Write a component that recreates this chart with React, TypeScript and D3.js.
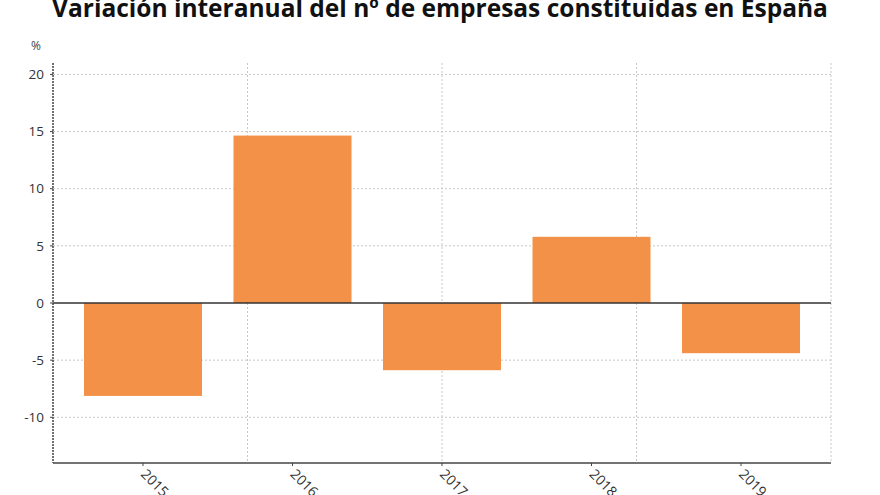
import React from "react";
import * as d3 from "d3";

const categories = ["2015", "2016", "2017", "2018", "2019"];
const values = [-8.13, 14.65, -5.88, 5.79, -4.39];
const yTicks = [-10, -5, 0, 5, 10, 15, 20];

const W = 880, H = 495;
const left = 53, right = 831, top = 63, bottom = 463;

export default function App() {
  const x = d3.scalePoint<string>().domain(categories).range([left, right]).padding(0.602);
  const y = d3.scaleLinear().domain([-14, 21]).range([bottom, top]);
  const barW = 118;
  const vGrid = d3.range(1, 5).map((k) => left + (k * (right - left)) / 4);
  return (
    <svg width={W} height={H} style={{ position: "absolute", left: 0, top: 0, fontFamily: "'Open Sans', sans-serif" }}>
      <rect width={W} height={H} fill="#fff" />
      <text x={440} y={17} textAnchor="middle" fontSize={24.5} fontWeight={700} fill="#111">
        Variación interanual del nº de empresas constituidas en España
      </text>
      <text x={36} y={50} textAnchor="middle" fontSize={12} fill="#444">%</text>
      {yTicks.map((t) => (
        <g key={t}>
          {t !== 0 && (
            <line x1={left} x2={right} y1={y(t)} y2={y(t)} stroke="#c8c8c8" strokeDasharray="2,2" />
          )}
          <line x1={left - 3} x2={left} y1={y(t)} y2={y(t)} stroke="#444" />
          <text x={left - 9} y={y(t)} dy="0.35em" textAnchor="end" fontSize={13.5} fill="#333">
            {t}
          </text>
        </g>
      ))}
      {vGrid.map((gx, i) => (
        <line key={i} x1={gx} x2={gx} y1={top} y2={bottom} stroke="#c8c8c8" strokeDasharray="2,2" />
      ))}
      {categories.map((c, i) => {
        const v = values[i];
        const cx = x(c)!;
        return (
          <rect key={c} x={cx - barW / 2} width={barW} y={y(Math.max(0, v))} height={Math.abs(y(v) - y(0))} fill="#F29147" />
        );
      })}
      <line x1={left} x2={right} y1={y(0)} y2={y(0)} stroke="#333" strokeWidth={1.5} />
      <line x1={left} x2={left} y1={top} y2={bottom} stroke="#444" strokeWidth={1.5} strokeDasharray="2,1" />
      <line x1={left} x2={right} y1={bottom} y2={bottom} stroke="#444" strokeWidth={1.5} />
      {categories.map((c) => {
        const cx = x(c)!;
        return (
          <g key={c}>
            <line x1={cx} x2={cx} y1={bottom} y2={bottom + 3} stroke="#444" />
            <text transform={`translate(${cx - 3},${bottom + 12}) rotate(45)`} fontSize={14} fill="#333">
              {c}
            </text>
          </g>
        );
      })}
    </svg>
  );
}
